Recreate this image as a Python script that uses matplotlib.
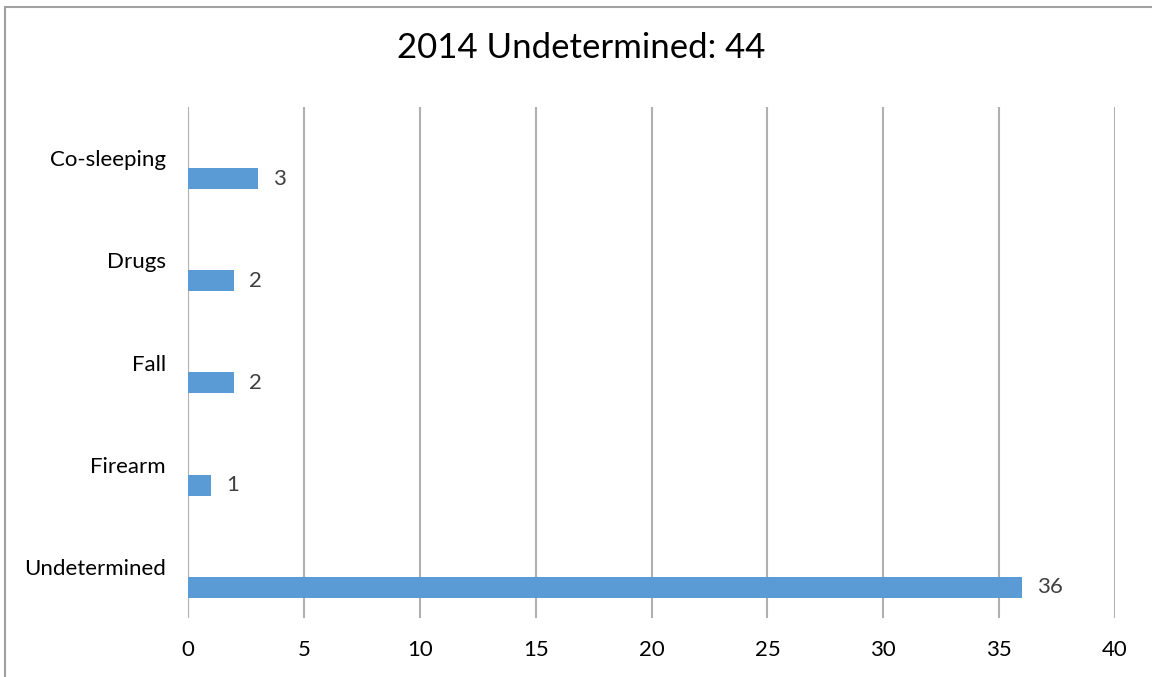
import matplotlib
matplotlib.use("Agg")
import matplotlib.pyplot as plt
import numpy as np

plt.rcParams['font.family'] = ['Lato', 'DejaVu Sans']

categories = ["Co-sleeping", "Drugs", "Fall", "Firearm", "Undetermined"]
counts = [3, 2, 2, 1, 36]
title = "2014 Undetermined: 44"

fig = plt.figure(figsize=(11.52, 6.77), dpi=100)
ax = fig.add_axes([0.1632, 0.0871, 0.8047, 0.7548])

# chart border (Excel-style frame, cut off at right/bottom)
fig.patches.append(plt.Rectangle((5/1152, -0.1), 1.2, 1 - 7/677 + 0.1,
                                 transform=fig.transFigure, fill=False,
                                 edgecolor="#a0a0a0", lw=1.5, zorder=0))

y = np.arange(len(categories))
ax.barh(y + 0.2, counts, height=0.205, color="#5b9bd5", zorder=3)
for yi, v in zip(y, counts):
    ax.text(v + 0.65, yi + 0.2, str(v), va="center", ha="left",
            fontsize=16, color="#404040")

ax.set_xlim(0, 40)
ax.set_ylim(len(categories) - 0.5, -0.5)
ax.set_xticks(range(0, 41, 5))
ax.set_yticks(y)
ax.set_yticklabels(categories)
ax.tick_params(axis="both", length=0, labelsize=16, colors="black")
ax.tick_params(axis="x", pad=16)
ax.tick_params(axis="y", pad=16)
ax.grid(axis="x", color="#b0b0b0", lw=1.5, zorder=0)
ax.axvline(0, color="#d9d9d9", lw=1.5, zorder=1)
for s in ax.spines.values():
    s.set_visible(False)

fig.text(581/1152, 1 - 48/677, title, ha="center", va="center", fontsize=25)

fig.savefig("out.png", dpi=100)
